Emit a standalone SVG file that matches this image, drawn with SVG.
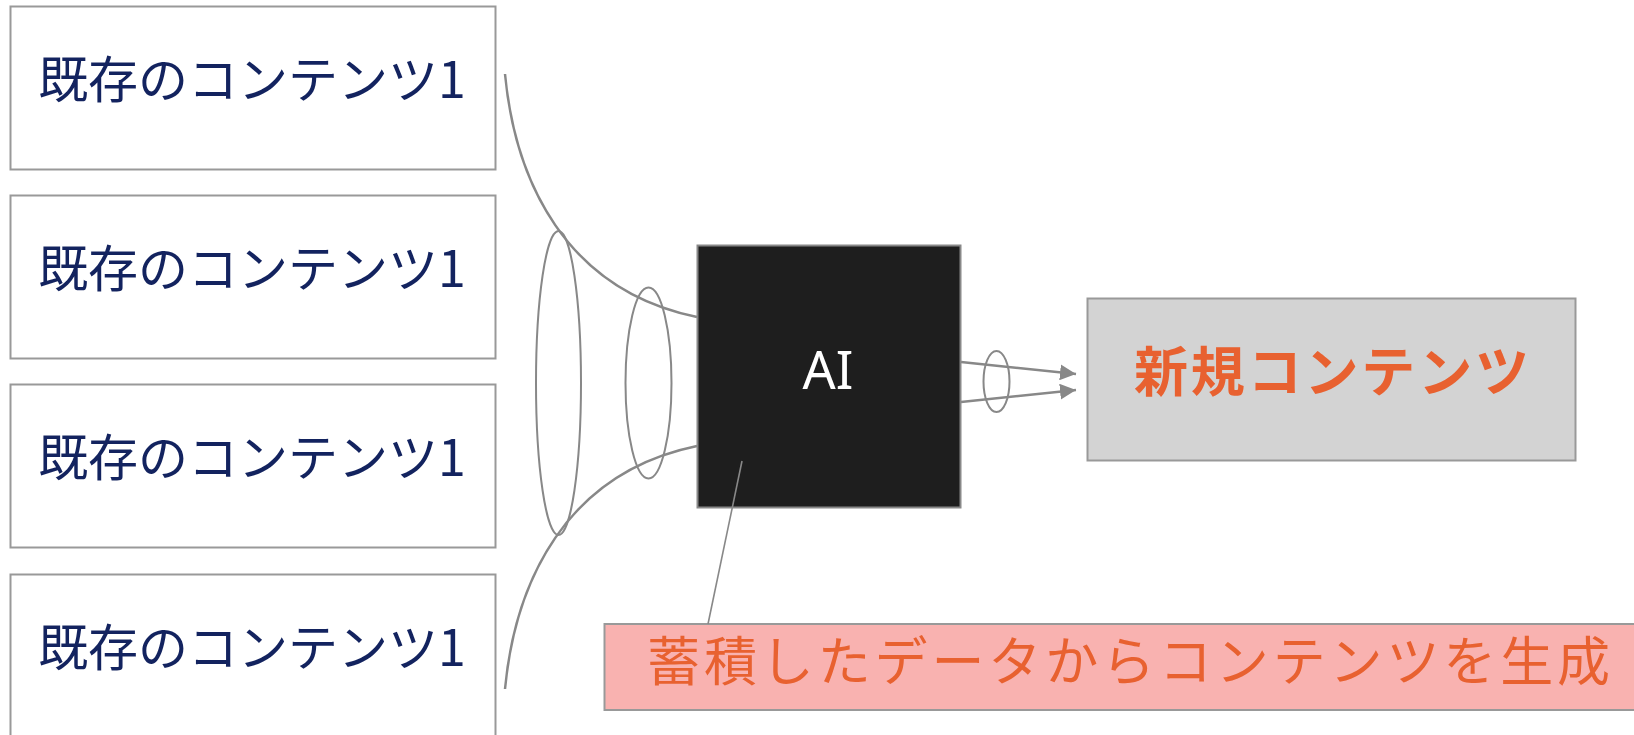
<svg xmlns="http://www.w3.org/2000/svg" width="1634" height="735" viewBox="0 0 1634 735">
<style>
.src rect{fill:#fff;stroke:#999;stroke-width:2}
.src text{font-family:"Noto Sans CJK JP","Noto Sans",sans-serif;font-size:50px;fill:#13235f;text-anchor:middle}
.con{fill:none;stroke:#888;stroke-width:2.5}
.ell{fill:none;stroke:#888;stroke-width:2}
</style>
<defs>
<marker id="ah" viewBox="0 0 16 16" refX="16" refY="8" markerWidth="16" markerHeight="16" markerUnits="userSpaceOnUse" orient="auto">
<path d="M0,0 L16,8 L0,16 z" fill="#888"/>
</marker>
</defs>
<rect width="1634" height="735" fill="#fff"/>
<g id="src1" class="src"><rect x="10.5" y="6.5" width="485" height="163"/><text x="252" y="98">既存のコンテンツ1</text></g>
<g id="src2" class="src"><rect x="10.5" y="195.5" width="485" height="163"/><text x="252" y="287">既存のコンテンツ1</text></g>
<g id="src3" class="src"><rect x="10.5" y="384.5" width="485" height="163"/><text x="252" y="476">既存のコンテンツ1</text></g>
<g id="src4" class="src"><rect x="10.5" y="574.5" width="485" height="170"/><text x="252" y="666">既存のコンテンツ1</text></g>
<g id="ai"><rect x="697.5" y="245.5" width="263" height="262" fill="#1e1e1e" stroke="#888" stroke-width="2"/><text x="828" y="389" font-family="'Noto Sans',sans-serif" font-size="52" fill="#fff" text-anchor="middle">AI</text></g>
<g id="new"><rect x="1087.5" y="298.5" width="488" height="162" fill="#d3d3d3" stroke="#999" stroke-width="2"/><text x="1134" y="392" font-family="'Noto Sans CJK JP',sans-serif" font-weight="bold" font-size="54" fill="#e86130" textLength="395" lengthAdjust="spacing">新規コンテンツ</text></g>
<g id="note"><rect x="604.5" y="624" width="1040" height="86" fill="#f9b2b0" stroke="#999" stroke-width="2"/><text x="647" y="681" font-family="'Noto Sans CJK JP',sans-serif" font-size="53" fill="#e86130" textLength="963" lengthAdjust="spacing">蓄積したデータからコンテンツを生成</text></g>
<g id="connectors">
<path class="con" d="M505,74 C515,180 565,290 697,317"/>
<path class="con" d="M505,689 C515,583 565,473 697,446"/>
<ellipse class="ell" cx="558.5" cy="383" rx="22.5" ry="152"/>
<ellipse class="ell" cx="648.5" cy="383" rx="23" ry="95.5"/>
<line class="con" x1="961" y1="362" x2="1076" y2="374" marker-end="url(#ah)"/>
<line class="con" x1="961" y1="402" x2="1076" y2="390" marker-end="url(#ah)"/>
<ellipse class="ell" cx="996.5" cy="381.5" rx="13" ry="30.5"/>
<line x1="708" y1="624" x2="742" y2="461" stroke="#888" stroke-width="1.6"/>
</g>
</svg>
